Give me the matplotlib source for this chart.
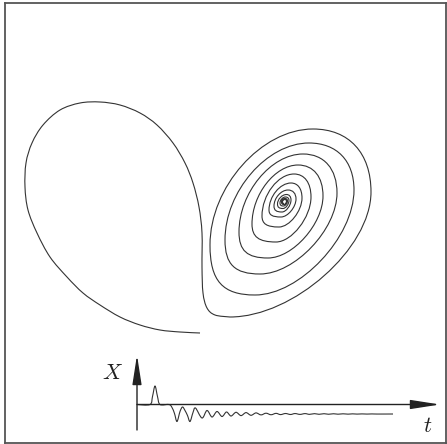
import numpy as np
import matplotlib
matplotlib.use("Agg")
import matplotlib.pyplot as plt
from matplotlib.path import Path
from matplotlib.patches import PathPatch

plt.rcParams['mathtext.fontset'] = 'cm'

# phase portrait (picture units, y grows downwards)
# big left lobe, from its loose end to where it drops into the spiral
lobe_x = [200, 180, 160, 140, 120, 100, 83, 67, 50, 37, 28, 25, 26, 32, 43, 60, 80, 100,
          120, 140, 157, 173, 185, 193, 199, 202, 202, 203, 207, 215]
lobe_y = [333, 332, 330, 325, 317, 305, 293, 277, 257, 233, 210, 187, 163, 143, 125, 110, 103, 102,
          105, 113, 125, 143, 163, 183, 207, 233, 267, 293, 308, 315]

# spiral: turning points in order bottom, right, top, left, bottom, ...
turn_x = [230, 371, 313, 210,
          255, 354, 309, 225,
          260, 337, 303, 239,
          268, 323, 298, 252,
          276, 311, 294, 262,
          279, 302, 291, 269,
          281, 296, 288, 274,
          282, 291, 286.5, 277.5,
          283, 289, 285.5, 280,
          283.5, 287.5, 285, 281.5,
          284, 286.5, 284.8, 282.5,
          284]
turn_y = [317, 192, 129, 245,
          295, 190, 143, 240,
          274, 193, 154, 232,
          258, 196, 165, 224,
          242, 197, 174, 216,
          227, 198, 183, 210,
          217, 199, 190, 206,
          212, 200, 194.5, 204,
          208.5, 200.5, 197, 203,
          206, 201, 198.5, 202,
          204.5, 201.2, 199.5, 201.8,
          203.5]

# time series X(t) in the inset
series_t = [0, 13, 15.5, 18, 20.5, 23, 32, 35, 37.5, 40, 43, 45.5, 48, 50.5, 53, 56, 58.5,
            65, 70, 75, 80, 85, 89.5, 94, 99, 104, 109, 114, 119, 124, 129, 134, 139, 143.5,
            148.5, 153.5, 158, 163, 168, 172.5, 177.5, 182, 187, 191.5, 196.5, 201, 206, 211,
            215.5, 220, 225, 230, 235, 240, 256]
series_x = [0, 0, 8, 18.5, 8, 0, 0, -3, -9, -17, -7, -2.5, -6, -11, -17, -8, -3.5,
            -13.5, -6, -12.5, -7, -12, -7.5, -11.5, -7.8, -11.1, -8.1, -10.8, -8.4, -10.4, -8.7,
            -10.25, -8.85, -10.1, -9.0, -10.0, -9.05, -9.9, -9.1, -9.85, -9.15, -9.8, -9.2, -9.75,
            -9.25, -9.7, -9.3, -9.65, -9.35, -9.6, -9.4, -9.58, -9.42, -9.55, -9.5]


def smooth_segments(xs, ys):
    # catmull-rom through the read points -> cubic bezier pieces
    p = np.column_stack([xs, ys]).astype(float)
    n = len(p)
    verts, codes = [p[0]], [Path.MOVETO]
    for i in range(n - 1):
        p0 = p[max(i - 1, 0)]
        p1 = p[i]
        p2 = p[i + 1]
        p3 = p[min(i + 2, n - 1)]
        verts += [p1 + (p2 - p0) / 6, p2 - (p3 - p1) / 6, p2]
        codes += [Path.CURVE4] * 3
    return verts, codes


# handle length per quarter: bottom->right, right->top, top->left, left->bottom
K = [0.45, 0.62, 0.5, 0.72]


def spiral_segments(xs, ys):
    # quarter arcs between turning points; tangent is horizontal at bottom/top,
    # vertical at right/left
    verts, codes = [], []
    for i in range(len(xs) - 1):
        px, py, qx, qy = xs[i], ys[i], xs[i + 1], ys[i + 1]
        k = K[i % 4]
        if i % 2 == 0:
            c1 = (px + k * (qx - px), py)
            c2 = (qx, qy + k * (py - qy))
        else:
            c1 = (px, py + k * (qy - py))
            c2 = (qx + k * (px - qx), qy)
        verts += [c1, c2, (qx, qy)]
        codes += [Path.CURVE4] * 3
    return verts, codes


fig = plt.figure(figsize=(4.47, 4.44), dpi=100)
fig.patch.set_facecolor('white')

# main frame
ax = fig.add_axes([5 / 447, 1 - 443 / 444, 441 / 447, 440 / 444])
ax.set_xlim(5, 446)
ax.set_ylim(443, 3)
ax.set_xticks([])
ax.set_yticks([])
for s in ax.spines.values():
    s.set_color('#555555')
    s.set_linewidth(1.3)

v1, c1 = smooth_segments(lobe_x + turn_x[:1], lobe_y + turn_y[:1])
v2, c2 = spiral_segments(turn_x, turn_y)
curve = Path(v1 + v2, c1 + c2)
ax.add_patch(PathPatch(curve, fill=False, edgecolor='#333333', lw=0.8))

# inset with X(t)
ax2 = fig.add_axes([100 / 447, 1 - 442 / 444, 346 / 447, 97 / 444])
ax2.set_xlim(-37, 309)
ax2.set_ylim(-37.5, 59.5)
ax2.axis('off')
ax2.patch.set_alpha(0)

arrow = dict(arrowstyle='-|>,head_length=1.8,head_width=0.28', mutation_scale=10,
             color='#222222', lw=1.0, shrinkA=0, shrinkB=0)
ax2.annotate('', xy=(303, 0), xytext=(0, 0), arrowprops=arrow)
ax2.annotate('', xy=(0, 49.5), xytext=(0, -25.5), arrowprops=arrow)

tv, tc = smooth_segments(series_t, series_x)
ax2.add_patch(PathPatch(Path(tv, tc), fill=False, edgecolor='#333333', lw=0.8))

ax2.text(-24.5, 32, '$X$', fontsize=16, ha='center', va='center', color='#222222')
ax2.text(291, -21.5, '$t$', fontsize=16, ha='center', va='center', color='#222222')

fig.savefig('out.png', dpi=100)
